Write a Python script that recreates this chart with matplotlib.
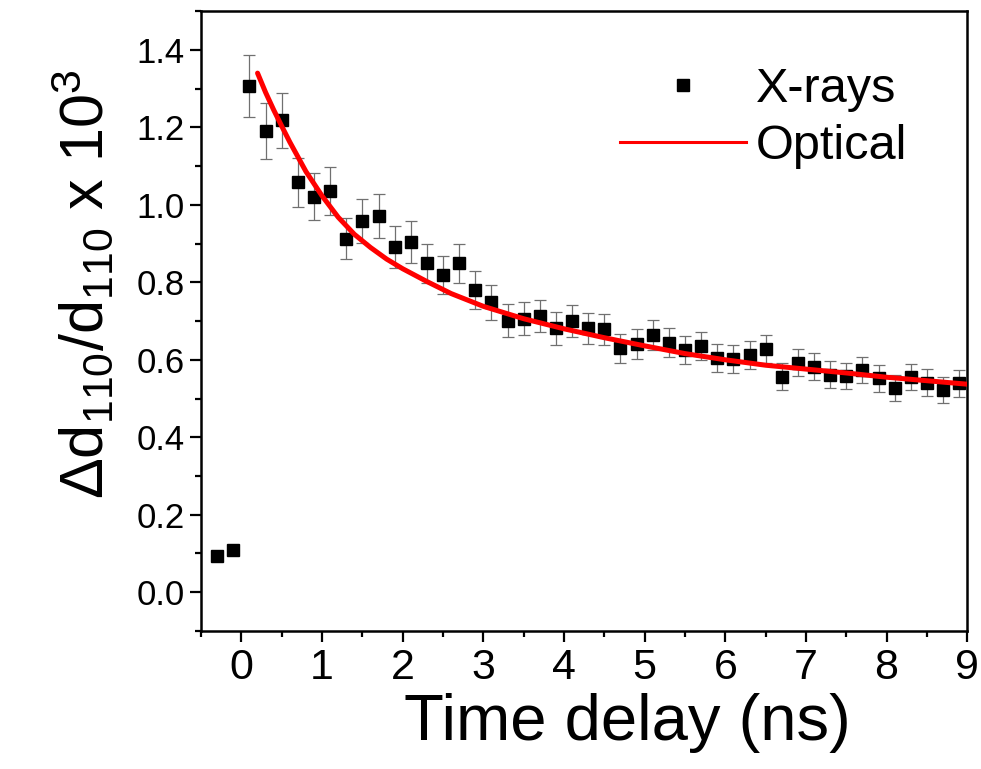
import matplotlib
matplotlib.use("Agg")
import matplotlib.pyplot as plt
from matplotlib.ticker import MultipleLocator
from matplotlib.lines import Line2D

plt.rcParams['font.family'] = ['Liberation Sans', 'DejaVu Sans']
plt.rcParams['mathtext.fontset'] = 'custom'
plt.rcParams['mathtext.rm'] = 'Liberation Sans'
plt.rcParams['mathtext.it'] = 'Liberation Sans:italic'

# X-ray lattice strain (x 10^3) vs delay
xray_t = [-0.3, -0.1, 0.1, 0.3, 0.5, 0.7, 0.9, 1.1, 1.3, 1.5, 1.7, 1.9, 2.1, 2.3,
          2.5, 2.7, 2.9, 3.1, 3.3, 3.5, 3.7, 3.9, 4.1, 4.3, 4.5, 4.7, 4.9, 5.1,
          5.3, 5.5, 5.7, 5.9, 6.1, 6.3, 6.5, 6.7, 6.9, 7.1, 7.3, 7.5, 7.7, 7.9,
          8.1, 8.3, 8.5, 8.7, 8.9]
xray_val = [0.094, 0.109, 1.308, 1.191, 1.218, 1.058, 1.021, 1.036, 0.912, 0.958,
            0.971, 0.892, 0.905, 0.849, 0.819, 0.849, 0.780, 0.748, 0.701, 0.706,
            0.713, 0.681, 0.701, 0.681, 0.679, 0.630, 0.641, 0.664, 0.644, 0.625,
            0.636, 0.604, 0.601, 0.612, 0.627, 0.556, 0.593, 0.582, 0.561, 0.558,
            0.574, 0.552, 0.528, 0.556, 0.541, 0.522, 0.539]
xray_err = [0.0, 0.0, 0.080, 0.072, 0.072, 0.063, 0.060, 0.062, 0.053, 0.057,
            0.057, 0.054, 0.054, 0.050, 0.048, 0.050, 0.048, 0.044, 0.042, 0.043,
            0.042, 0.042, 0.041, 0.041, 0.040, 0.037, 0.038, 0.039, 0.038, 0.037,
            0.037, 0.036, 0.036, 0.036, 0.036, 0.035, 0.035, 0.035, 0.035, 0.034,
            0.034, 0.034, 0.034, 0.034, 0.034, 0.034, 0.034]

# optical measurement
opt_t = [0.2, 0.3, 0.4, 0.5, 0.6, 0.8, 1.0, 1.2, 1.4, 1.6, 1.8, 2.0, 2.3, 2.6,
         3.0, 3.5, 4.0, 4.5, 5.0, 5.5, 6.0, 6.5, 7.0, 7.5, 8.0, 8.5, 9.0]
opt_val = [1.340, 1.290, 1.245, 1.203, 1.162, 1.086, 1.023, 0.968, 0.924, 0.890,
           0.860, 0.835, 0.802, 0.771, 0.738, 0.706, 0.680, 0.657, 0.636, 0.616,
           0.600, 0.586, 0.576, 0.566, 0.555, 0.546, 0.537]

fig = plt.figure(figsize=(9.81, 7.69), dpi=100)
ax = fig.add_axes([0.205, 0.1795, 0.781, 0.806])

ax.errorbar(xray_t, xray_val, yerr=xray_err, fmt='s', color='black', markersize=8,
            ecolor='#707070', elinewidth=0.9, capsize=4.2, capthick=0.9, zorder=2)
ax.plot(opt_t, opt_val, color='#ff0000', lw=3.6, solid_capstyle='round', zorder=3)

ax.set_xlim(-0.5, 9)
ax.set_ylim(-0.1, 1.5)
ax.xaxis.set_major_locator(MultipleLocator(1))
ax.xaxis.set_minor_locator(MultipleLocator(0.5))
ax.yaxis.set_major_locator(MultipleLocator(0.2))
ax.yaxis.set_minor_locator(MultipleLocator(0.1))
ax.yaxis.set_major_formatter(plt.FormatStrFormatter('%.1f'))

ax.tick_params(which='both', direction='out', width=1.6, top=False, right=False)
ax.tick_params(which='major', length=8)
ax.tick_params(which='minor', length=4.5)
ax.tick_params(axis='x', labelsize=31, pad=4)
ax.tick_params(axis='y', labelsize=25, pad=4)
for sp in ax.spines.values():
    sp.set_linewidth(1.8)

ax.set_xlabel('Time delay (ns)', fontsize=47)
ax.xaxis.set_label_coords(0.556, -0.1)
ax.set_ylabel(r'$\Delta$d$_{110}$/d$_{110}$ x 10$^{3}$', fontsize=44)
ax.yaxis.set_label_coords(-0.11, 0.56)

handles = [Line2D([], [], ls='none', marker='s', color='black', markersize=9),
           Line2D([], [], color='#ff0000', lw=2.2)]
ax.legend(handles, ['X-rays', 'Optical'], loc='upper right', bbox_to_anchor=(0.922, 0.91),
          frameon=False, fontsize=35, handlelength=2.6, handletextpad=0.2,
          labelspacing=0.25, borderpad=0, borderaxespad=0)

fig.savefig('out.png', dpi=100)
